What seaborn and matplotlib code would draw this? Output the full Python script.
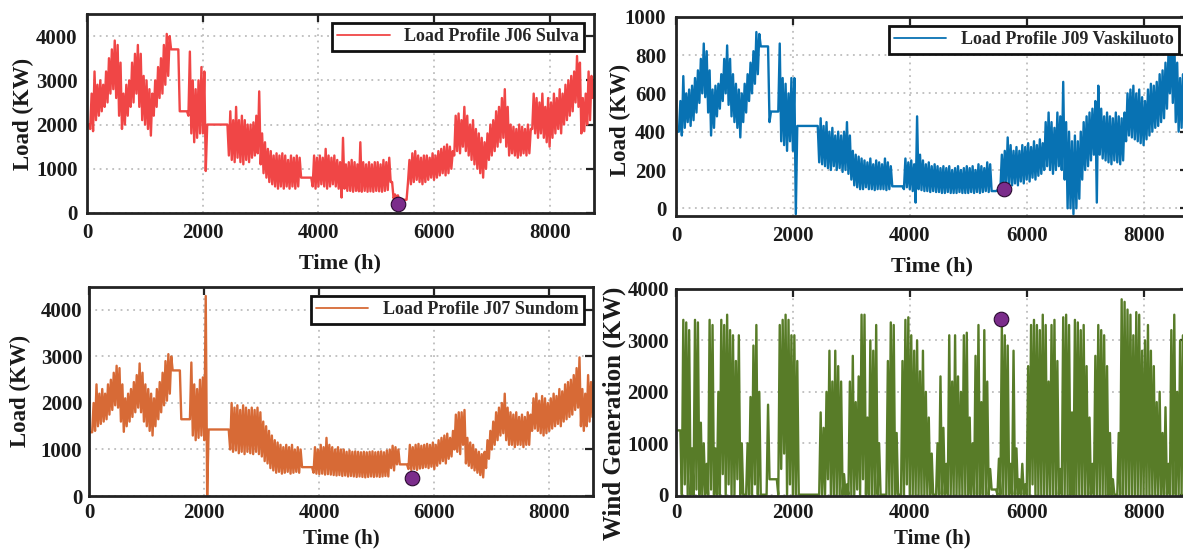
import numpy as np
import pandas as pd
import matplotlib
matplotlib.use("Agg")
import matplotlib.pyplot as plt
import seaborn as sns

# ---------------- data (50-hour bins: band bottom / band top) ----------------
BIN_H = 50
J06_LO = [2000,1900,1850,2100,2200,2300,2400,2500,2700,2800,
          2600,2200,1900,2000,2200,2400,2500,2700,2400,2100,
          2000,1900,1750,2200,2400,2600,2700,2900,3100,3700,
          3700,3700,2300,2300,2300,2200,1800,1600,1700,1800,
          1800,950,2000,2000,2000,2000,2000,2000,2000,1300,
          1200,1150,1250,1150,1100,1200,1150,1250,1300,1350,
          1100,900,800,700,650,600,550,600,550,600,
          550,600,550,600,800,800,800,800,600,550,
          600,650,600,550,600,650,600,550,350,550,
          500,500,480,500,490,480,500,480,490,480,
          500,490,480,500,520,700,330,350,300,300,
          300,700,650,700,750,700,650,700,750,800,
          750,800,850,900,850,900,1000,1300,1400,1350,
          1500,1400,1300,1200,1100,1000,900,800,1000,1200,
          1300,1400,1500,1600,1700,1500,1300,1350,1300,1250,
          1300,1350,1300,1350,1900,1800,1700,1800,1700,1600,
          1500,1700,1800,1900,1800,2000,2100,2200,2300,2500,
          2400,1800,1850,2000,2100,2600]
J06_HI = [2000,2700,3200,2900,3000,2900,3200,3500,3700,3900,
          3800,3400,2700,2900,3000,3400,3600,3800,3600,3100,
          3000,2800,2700,3000,3300,3500,3800,4050,4000,3700,
          3700,3700,2300,2300,2300,3650,3000,2800,3000,3300,
          3200,2000,2000,2000,2000,2000,2000,2000,2000,2300,
          2100,2400,2100,2200,2100,2000,2000,2050,2200,2750,
          1800,1600,1450,1400,1300,1350,1300,1350,1300,1200,
          1300,1250,1300,1250,800,800,800,800,1300,1250,
          1300,1250,1450,1300,1250,1300,1200,1150,1700,1100,
          1150,1200,1150,1100,1600,1150,1100,1150,1100,1150,
          1150,1100,1200,1150,1250,700,420,400,300,300,
          300,1200,1350,1400,1300,1250,1300,1300,1250,1350,
          1300,1400,1450,1500,1550,1500,1400,2200,2250,2100,
          2400,2200,2000,2100,1900,1800,1700,1600,1800,2000,
          2100,2300,2400,2600,2800,2400,2000,1950,1900,2000,
          1950,1900,2000,1900,2700,2600,2500,2700,2400,2600,
          2500,2700,2600,2800,2700,2900,3000,3100,3200,3550,
          3400,2600,2700,3200,3100,3000]

J09_LO = [400,400,380,420,450,430,460,500,550,600,
          580,500,380,420,480,520,560,600,540,480,
          450,420,370,450,500,560,600,650,700,845,
          845,845,450,505,505,505,350,330,300,350,
          300,-30,430,430,430,430,430,430,430,240,
          230,220,210,200,220,200,210,190,200,180,
          150,120,110,100,100,110,100,100,95,100,
          100,100,95,100,115,115,115,115,100,110,
          100,90,30,100,95,90,90,85,90,85,
          85,80,80,85,80,80,80,85,80,80,
          80,85,80,85,80,85,90,85,90,90,
          95,100,110,120,130,120,130,120,140,130,
          150,140,160,150,170,180,200,220,200,180,
          200,220,200,150,0,0,-30,0,50,150,
          200,220,250,280,30,280,260,250,240,230,
          250,240,230,250,350,380,370,360,350,340,
          330,360,380,400,420,430,450,470,520,600,
          550,450,400,420,450,500]
J09_HI = [400,560,690,600,620,640,680,720,780,860,
          820,720,620,640,650,700,780,850,780,700,
          650,620,600,650,700,760,820,920,910,845,
          845,845,505,505,505,860,680,650,600,680,
          680,430,430,430,430,430,430,430,430,470,
          430,450,400,420,380,400,380,400,450,380,
          300,280,270,260,250,240,260,230,250,240,
          230,260,240,220,115,115,115,115,260,240,
          250,230,480,280,250,230,240,220,230,220,
          210,220,210,220,200,210,220,200,210,220,
          210,220,200,230,220,210,240,230,90,90,
          95,280,300,370,330,300,320,300,330,320,
          340,320,350,330,360,340,450,500,450,420,
          500,480,660,450,400,350,380,350,400,450,
          480,500,520,560,640,520,480,500,480,470,
          500,480,470,500,600,620,640,600,620,580,
          560,620,650,640,660,700,720,760,800,880,
          910,760,680,700,720,650]

J07_LO = [1370,1370,1400,1500,1550,1600,1650,1750,1850,1950,
          1900,1600,1380,1500,1600,1700,1800,1900,1800,1600,
          1500,1400,1300,1500,1650,1800,1950,2050,2200,2700,
          2700,2700,1650,1650,1650,1650,1300,1200,1250,1300,
          1200,0,1430,1430,1430,1430,1430,1430,1430,1000,
          950,980,920,950,900,950,920,900,950,900,
          850,750,700,600,550,500,520,480,500,520,
          480,500,520,500,620,620,620,620,500,480,
          470,480,460,470,460,450,440,450,430,440,
          420,430,420,410,420,410,400,410,420,410,
          420,410,420,430,420,600,550,680,680,680,
          680,580,560,580,560,590,600,620,600,630,
          580,650,700,750,700,800,850,1000,950,900,
          1100,700,650,600,550,500,450,400,600,800,
          1000,1100,1200,1300,1350,1200,1100,1100,1050,1100,
          1100,1050,1100,1100,1400,1450,1400,1350,1300,1350,
          1400,1450,1500,1550,1500,1600,1650,1700,1750,1850,
          1900,1500,1400,1500,1600,1700]
J07_HI = [1370,2000,2400,2200,2300,2200,2400,2500,2650,2800,
          2750,2400,2100,2200,2300,2450,2600,2850,2650,2400,
          2300,2200,2100,2300,2450,2650,2900,3050,3000,2700,
          2700,2700,1650,1650,1650,2870,2400,2300,2500,2550,
          4300,1430,1430,1430,1430,1430,1430,1430,1430,2000,
          1900,1950,1850,1950,1900,1850,1900,1850,1900,1800,
          1600,1500,1400,1300,1200,1150,1100,1050,1100,1050,
          1100,1000,1050,1000,620,620,620,620,1050,1000,
          1100,1050,1250,1100,1050,1000,1050,1000,1000,950,
          980,950,960,950,940,950,940,950,960,940,
          950,960,940,980,1000,1080,1050,1000,680,680,
          680,1100,1050,1100,1120,1080,1100,1120,1100,1150,
          1100,1200,1250,1300,1340,1250,1400,1750,1800,1800,
          1850,1250,1150,1100,1000,950,900,950,1200,1400,
          1600,1800,1900,2000,2200,1900,1800,1750,1800,1700,
          1750,1700,1800,1750,2100,2200,2050,2150,2100,2000,
          2100,2200,2150,2300,2250,2400,2450,2500,2600,2750,
          2980,2300,2200,2600,2450,2500]

WIND_LO = [1250,1250,0,200,0,0,0,100,0,0,
           0,0,100,0,0,0,400,0,200,0,
           0,300,0,0,0,0,0,200,0,0,
           0,0,300,300,300,0,500,800,0,200,
           0,0,0,0,0,0,0,0,0,0,
           0,0,300,0,0,0,0,0,0,0,
           0,0,100,0,300,0,0,0,0,0,
           0,0,0,0,0,0,0,0,0,200,
           0,0,0,0,0,0,0,0,0,0,
           0,0,0,0,0,0,0,0,0,0,
           0,0,0,0,0,0,0,0,100,100,
           0,0,0,0,0,0,0,0,0,0,
           0,0,200,0,0,0,0,0,0,0,
           0,0,0,0,0,0,0,0,0,0,
           0,0,0,0,0,0,0,0,0,0,
           0,0,0,0,0,0,0,0,0,0,
           0,0,0,0,0,0,0,0,0,0,
           0,0,0,0,0,0]
WIND_HI = [1250,1250,3400,3350,3200,900,3400,3350,1400,1000,
           600,3400,3300,900,2000,3400,3300,3500,3200,3100,
           2600,3100,1000,0,1000,1900,2900,3300,2000,0,
           0,1750,300,300,300,3300,3400,3500,3400,3100,
           3100,2600,0,0,0,0,0,0,0,1600,
           1300,2000,2800,2200,2800,2500,2200,400,200,2200,
           2700,1800,2300,3500,3500,1500,3000,2800,3300,1000,
           0,0,2600,3350,3300,1200,0,2600,3400,3450,
           3100,2800,3000,2400,2800,2000,1500,800,0,1000,
           2300,1300,600,3100,2200,3100,2300,2000,3100,3150,
           1500,1000,2700,3300,1800,3200,2200,500,100,100,
           700,3300,3100,2900,600,2800,900,300,600,200,
           2500,3300,3400,3300,3200,3500,3300,2200,3300,3400,
           2600,500,3450,3500,3300,1600,3400,3350,3200,3300,
           2500,1500,600,2700,3300,3200,3100,2500,1200,300,
           0,1200,3800,3750,3600,3500,3100,3550,3500,2800,
           3000,3300,2800,2500,1800,2000,1200,1700,600,3200,
           3500,2000,3000,3100,2000,1500]

# highlighted points (hour, value)
MARK_J06 = (5370, 210)
MARK_J09 = (5610, 100)
MARK_J07 = (5620, 384)
MARK_WIND = (5560, 3420)

LABELS = ["Load Profile J06 Sulva", "Load Profile J09 Vaskiluoto",
          "Load Profile J07 Sundom", None]
X_TICKS = [0, 2000, 4000, 6000, 8000]


def series(lo, hi):
    vals = np.empty(2 * len(lo))
    vals[0::2] = lo
    vals[1::2] = hi
    t = np.arange(len(vals)) * (BIN_H / 2)
    return pd.DataFrame({"Time (h)": t, "value": vals})


sns.set_theme(style="white")
plt.rcParams["font.family"] = ["Liberation Serif", "DejaVu Serif"]
plt.rcParams["font.weight"] = "bold"
plt.rcParams["axes.labelweight"] = "bold"

fig = plt.figure(figsize=(11.83, 5.51), dpi=100)
W, H = 1183.0, 551.0


def add_ax(left, right, top, bottom):
    return fig.add_axes([left / W, (H - bottom) / H, (right - left) / W, (bottom - top) / H])


ax_tl = add_ax(87.3, 593.5, 14, 213)
ax_tr = add_ax(676, 1188, 16.7, 216)
ax_bl = add_ax(89.3, 593, 286.7, 496)
ax_br = add_ax(676, 1188, 289, 495.7)

panels = [
    (ax_tl, J06_LO, J06_HI, "#F04646", LABELS[0], MARK_J06, (0, 4500), [0, 1000, 2000, 3000, 4000], "Load (KW)"),
    (ax_tr, J09_LO, J09_HI, "#0872B3", LABELS[1], MARK_J09, (-40, 1000), [0, 200, 400, 600, 800, 1000], "Load (KW)"),
    (ax_bl, J07_LO, J07_HI, "#D76A36", LABELS[2], MARK_J07, (0, 4500), [0, 1000, 2000, 3000, 4000], "Load (KW)"),
    (ax_br, WIND_LO, WIND_HI, "#587C28", LABELS[3], MARK_WIND, (-20, 4000), [0, 1000, 2000, 3000, 4000], "Wind Generation (KW)"),
]

ylabel_pos = {0: (-0.105, 0.5), 1: (-0.088, 0.48), 2: (-0.115, 0.5), 3: (-0.097, 0.40)}
xlabel_y = {0: -0.205, 1: -0.205, 2: -0.155, 3: -0.16}

for k, (ax, lo, hi, col, lab, mark, ylim, yticks, ylab) in enumerate(panels):
    df = series(lo, hi)
    sns.lineplot(data=df, x="Time (h)", y="value", ax=ax, color=col, linewidth=1.7,
                 estimator=None, sort=False, label=lab, legend=False)
    mdf = pd.DataFrame({"t": [mark[0]], "v": [mark[1]]})
    sns.scatterplot(data=mdf, x="t", y="v", ax=ax, s=110, color="#7B2C8B",
                    edgecolor="#2a0a30", linewidth=0.8, zorder=10, legend=False)
    ax.set_xlim(0, 8760)
    ax.set_ylim(*ylim)
    ax.set_xticks(X_TICKS)
    ax.set_yticks(yticks)
    ax.grid(True, linestyle=(0, (1, 2.5)), color="#BDBDBD", linewidth=1.3)
    ax.set_axisbelow(True)
    for s in ax.spines.values():
        s.set_linewidth(2.0)
        s.set_color("#232323")
        s.set_visible(True)
    ax.tick_params(direction="in", top=True, right=True, length=6, width=1.6,
                   colors="#232323", labelsize=15, pad=7 if k < 2 else 5)
    for tl in ax.get_xticklabels() + ax.get_yticklabels():
        tl.set_fontweight("bold")
        tl.set_color("#1a1a1a")
    ax.set_xlabel("Time (h)", fontsize=16 if k < 2 else 15, fontweight="bold", color="#1a1a1a")
    ax.set_ylabel(ylab, fontsize=18 if k == 3 else 16.5, fontweight="bold", color="#1a1a1a")
    ax.yaxis.set_label_coords(*ylabel_pos[k])
    ax.xaxis.set_label_coords(0.5, xlabel_y[k])
    if lab:
        leg = ax.legend(loc="upper right", frameon=True, fancybox=False,
                        handlelength=2.9, borderpad=0.3, borderaxespad=0.5,
                        prop={"weight": "bold", "size": 13})
        leg.get_frame().set_edgecolor("#111111")
        leg.get_frame().set_linewidth(2.0)
        leg.get_frame().set_alpha(1)
        for line in leg.get_lines():
            line.set_linewidth(1.3)

fig.savefig("out.png", dpi=100)
